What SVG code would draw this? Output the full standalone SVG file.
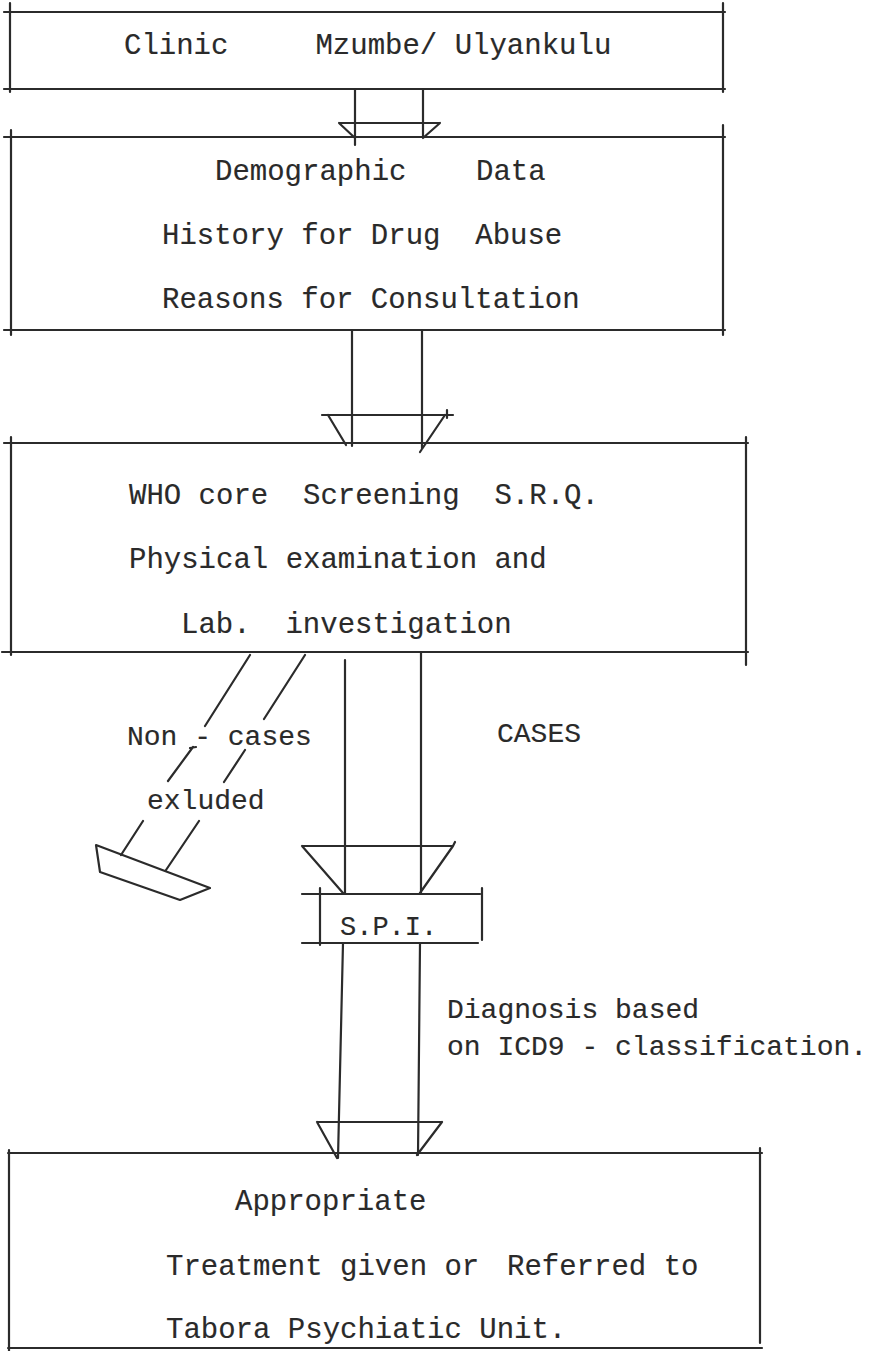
<svg xmlns="http://www.w3.org/2000/svg" width="883" height="1351" viewBox="0 0 883 1351">
<style>
  .ln { stroke:#2b2b2b; stroke-width:2.2; fill:none; stroke-linecap:round; stroke-linejoin:round; }
  .tb { font-family:"Liberation Mono","Courier New",monospace; font-size:29px; fill:#2a2a2a; stroke:#2a2a2a; stroke-width:0.15; white-space:pre; }
  .tl { font-family:"Liberation Mono","Courier New",monospace; font-size:28px; fill:#2a2a2a; stroke:#2a2a2a; stroke-width:0.15; white-space:pre; }
</style>
<rect width="883" height="1351" fill="#ffffff"/>

<g id="node-clinic">
  <path class="ln" d="M4 12 H725 M4 89 H725 M10 3 V92 M723 3 V92"/>
  <text class="tb" x="124" y="54" xml:space="preserve">Clinic     Mzumbe/ Ulyankulu</text>
</g>

<g id="node-demographic">
  <path class="ln" d="M4 137 H725 M4 330 H725 M11 130 V335 M723 125 V335"/>
  <text class="tb" x="215" y="180" xml:space="preserve">Demographic    Data</text>
  <text class="tb" x="162" y="244" xml:space="preserve">History for Drug  Abuse</text>
  <text class="tb" x="162" y="308" xml:space="preserve">Reasons for Consultation</text>
</g>

<g id="node-screening">
  <path class="ln" d="M4 443 H748 M2 652 H748 M11 437 V655 M746 437 V665"/>
  <text class="tb" x="129" y="504" xml:space="preserve">WHO core  Screening  S.R.Q.</text>
  <text class="tb" x="129" y="568" xml:space="preserve">Physical examination and</text>
  <text class="tb" x="181" y="633" xml:space="preserve">Lab.  investigation</text>
</g>

<g id="node-spi">
  <path class="ln" d="M302 894 H480 M302 943 H478 M320 888 V945 M482 888 V940"/>
  <text class="tl" x="340" y="935" style="font-size:27px" xml:space="preserve">S.P.I.</text>
</g>

<g id="node-outcome">
  <path class="ln" d="M8 1153 H762 M8 1348 H762 M9 1150 V1351 M760 1148 V1343"/>
  <text class="tb" x="235" y="1210" xml:space="preserve">Appropriate</text>
  <text class="tb" x="166" y="1275" xml:space="preserve">Treatment given or <tspan x="507">Referred to</tspan></text>
  <text class="tb" x="166" y="1338" xml:space="preserve">Tabora Psychiatic Unit.</text>
</g>

<g id="connectors">
  <!-- clinic -> demographic -->
  <path class="ln" d="M355 89 V145 M423 89 V138 M339 123 H440 M339 123 L355 138 M440 123 L423 138"/>
  <!-- demographic -> screening -->
  <path class="ln" d="M352 330 V446 M422 330 V449 M322 415 H453 M447 410 V418 M328 415 L346 445 M445 415 L420 452"/>
  <!-- non-cases excluded -->
  <g id="edge-noncases">
    <path class="ln" d="M250 655 L205 726 M305 655 L264 719 M193 747 L168 781 M190 748 L196 747 M245 750 L224 782 M143 821 L121 855 M199 821 L166 870"/>
    <path class="ln" d="M96 845 L210 888 L180 900 L100 872 Z"/>
    <text class="tl" x="127" y="745" xml:space="preserve">Non - cases</text>
    <text class="tl" x="147" y="809" xml:space="preserve">exluded</text>
  </g>
  <!-- screening -> SPI (cases) -->
  <g id="edge-cases">
    <path class="ln" d="M345 660 V893 M421 652 V893 M302 846 H453 M453 846 L455 842 M302 846 L343 893 M453 846 L420 893"/>
    <text class="tl" x="497" y="742" xml:space="preserve">CASES</text>
  </g>
  <!-- SPI -> outcome -->
  <g id="edge-diagnosis">
    <path class="ln" d="M343 943 L338 1158 M420 943 L418 1155 M317 1122 H442 M317 1122 L337 1158 M442 1122 L417 1155"/>
    <text class="tl" x="447" y="1018" xml:space="preserve">Diagnosis based</text>
    <text class="tl" x="447" y="1055" xml:space="preserve">on ICD9 - classification.</text>
  </g>
</g>
</svg>
